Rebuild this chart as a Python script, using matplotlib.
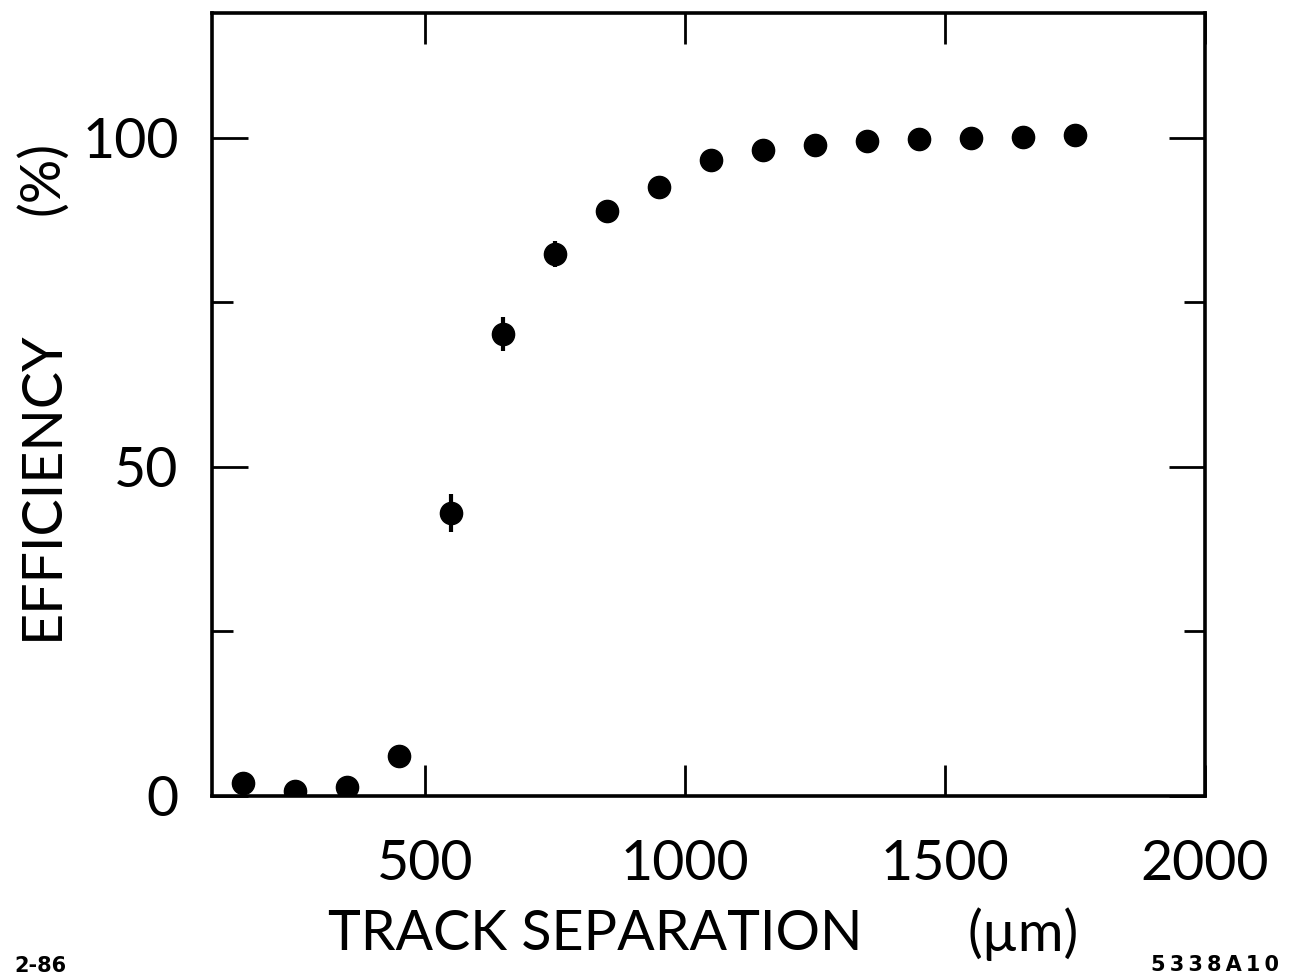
import matplotlib
matplotlib.use("Agg")
import matplotlib.pyplot as plt
from matplotlib.ticker import FixedLocator

# Data
separation = [150, 250, 350, 450, 550, 650, 750, 850, 950, 1050,
              1150, 1250, 1350, 1450, 1550, 1650, 1750]
efficiency = [1.9, 0.8, 1.3, 6.0, 43.0, 70.2, 82.4, 88.9, 92.6, 96.6,
              98.1, 98.9, 99.6, 99.8, 100.0, 100.1, 100.4]
error = [0.5, 0.5, 0.5, 0.8, 2.9, 2.6, 2.0, 1.2, 1.0, 0.6,
         0.5, 0.4, 0.3, 0.3, 0.3, 0.3, 0.3]

x_ticks = [500, 1000, 1500, 2000]
x_ticklabels = ["500", "1000", "1500", "2000"]
y_major = [0, 50, 100]
y_major_labels = ["0", "50", "100"]
y_minor = [25, 75]

FONT = ["Lato", "DejaVu Sans"]
plt.rcParams["font.family"] = FONT

fig = plt.figure(figsize=(12.91, 9.80), dpi=100)
ax = fig.add_axes([0.1642, 0.1878, 0.7692, 0.7990])

ax.errorbar(separation, efficiency, yerr=error, fmt="o", color="black",
            markersize=16, elinewidth=3, capsize=0, zorder=3)

ax.set_xlim(90, 2000)
ax.set_ylim(0, 119)

ax.xaxis.set_major_locator(FixedLocator(x_ticks))
ax.set_xticklabels(x_ticklabels)
ax.yaxis.set_major_locator(FixedLocator(y_major))
ax.set_yticklabels(y_major_labels)
ax.yaxis.set_minor_locator(FixedLocator(y_minor))

for sp in ax.spines.values():
    sp.set_linewidth(2.6)

ax.tick_params(axis="x", which="major", direction="in", length=22, width=2.0,
               top=True, bottom=True, pad=31, labelsize=40, labelcolor="black")
ax.tick_params(axis="y", which="major", direction="in", length=26, width=2.0,
               left=True, right=True, pad=24, labelsize=40, labelcolor="black")
ax.tick_params(axis="y", which="minor", direction="in", length=15, width=2.0,
               left=True, right=True)

# axis titles
fig.text(595 / 1291, 1 - 934 / 980, "TRACK SEPARATION", ha="center", va="center",
         fontsize=40, color="black")
fig.text(1023 / 1291, 1 - 934 / 980, "(\u00b5m)", ha="center", va="center",
         fontsize=40, color="black")
fig.text(42 / 1291, 1 - 485 / 980, "EFFICIENCY", ha="center", va="center",
         rotation=90, fontsize=40, color="black")
fig.text(42 / 1291, 1 - 178 / 980, "(%)", ha="center", va="center",
         rotation=90, fontsize=40, color="black")

# figure codes
fig.text(14 / 1291, 1 - 976 / 980, "2-86", ha="left", va="bottom",
         fontsize=15, fontweight="bold", family=["DejaVu Sans"])
fig.text(1279 / 1291, 1 - 965 / 980, "5\u20093\u20093\u20098\u2009A\u20091\u20090",
         ha="right", va="center",
         fontsize=15, fontweight="bold", family=["DejaVu Sans"])

fig.savefig("out.png", dpi=100)
